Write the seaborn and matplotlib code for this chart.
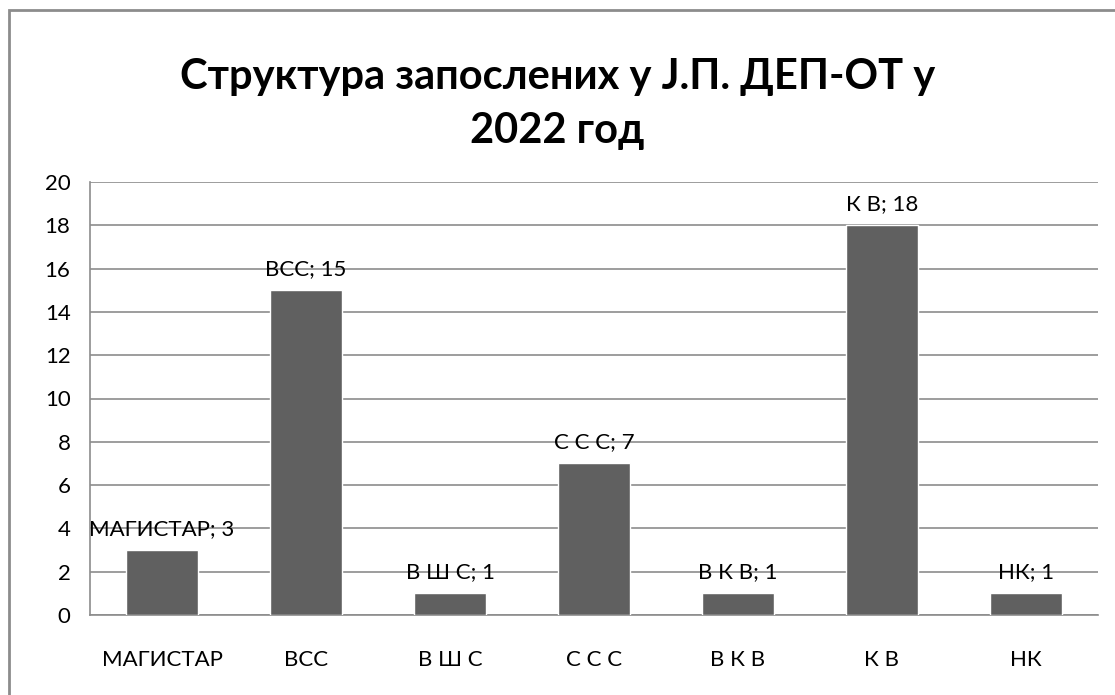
import matplotlib
matplotlib.use("Agg")
import matplotlib.pyplot as plt
import seaborn as sns
import pandas as pd
from matplotlib.patches import Rectangle

categories = ["МАГИСТАР", "ВСС", "В Ш С", "С С С", "В К В", "К В", "НК"]
values = [3, 15, 1, 7, 1, 18, 1]
yticks = [0, 2, 4, 6, 8, 10, 12, 14, 16, 18, 20]
title = "Структура запослених у Ј.П. ДЕП-ОТ у\n2022 год"

sns.set_theme(style="white")
plt.rcParams['font.family'] = ['Lato', 'DejaVu Sans']

df = pd.DataFrame({"cat": categories, "val": values})

fig = plt.figure(figsize=(11.15, 6.95), dpi=100)
W, H = 1115, 695
ax = fig.add_axes([90 / W, 1 - 615 / H, (1098 - 90) / W, (615 - 182) / H])

sns.barplot(data=df, x="cat", y="val", color="#606060", width=0.5,
            saturation=1, ax=ax, zorder=3)

FS = 16
ax.set_ylim(0, 20)
ax.set_xlim(-0.5, len(categories) - 0.5)
ax.set_yticks(yticks)
ax.set_yticklabels([str(t) for t in yticks], fontsize=FS, color="black")
ax.tick_params(axis="y", length=6, width=1.2, color="#8c8c8c", pad=8)
ax.grid(axis="y", color="#8c8c8c", linewidth=1.2, zorder=0)
ax.set_axisbelow(True)

# category boundary ticks on x axis
ax.set_xticks([i - 0.5 for i in range(len(categories) + 1)], minor=False)
ax.set_xticklabels([])
ax.tick_params(axis="x", length=5, width=1.2, color="#8c8c8c", direction="out")
ax.set_xticks(range(len(categories)), minor=True)
ax.set_xticklabels(categories, minor=True, fontsize=FS, color="black")
ax.tick_params(axis="x", which="minor", length=0, pad=25)

ax.set_xlabel("")
ax.set_ylabel("")
for s in ["top", "right"]:
    ax.spines[s].set_visible(False)
for s in ["left", "bottom"]:
    ax.spines[s].set_color("#8c8c8c")
    ax.spines[s].set_linewidth(1.2)

for i, (c, v) in enumerate(zip(categories, values)):
    ax.annotate(f"{c}; {v}", (i, v), xytext=(0, 8), textcoords="offset points",
                ha="center", va="bottom", fontsize=FS, color="black", zorder=5)

fig.text(0.5, 1 - 104 / H, title, ha="center", va="center",
         fontsize=30, fontweight="bold", color="black", linespacing=1.5)

fig.patches.append(Rectangle((9 / W, -0.05), 1.2, 1 - 10 / H + 0.05,
                             transform=fig.transFigure, fill=False,
                             edgecolor="#8c8c8c", linewidth=2.0))

fig.savefig("out.png", dpi=100, facecolor="white")
